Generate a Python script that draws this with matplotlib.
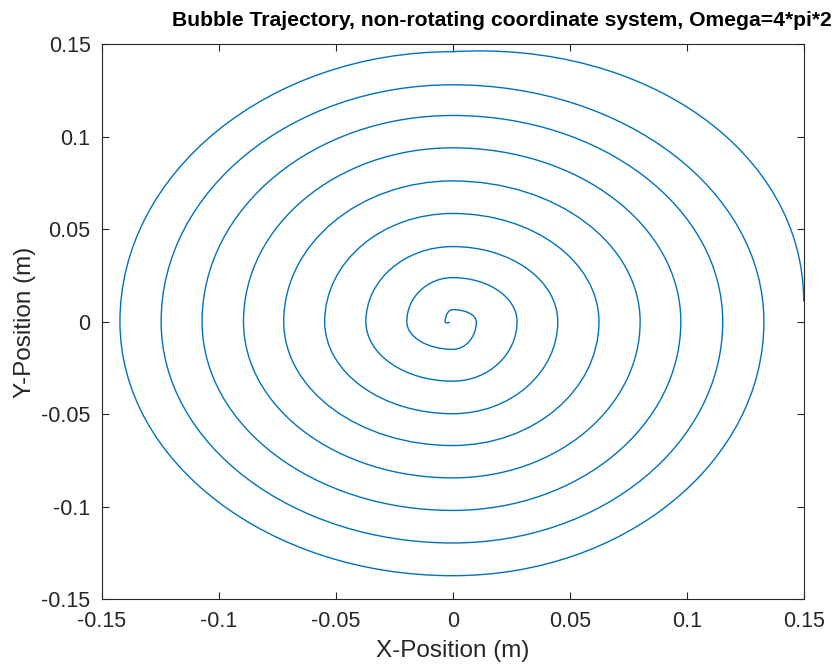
import matplotlib.pyplot as plt
from matplotlib.path import Path
from matplotlib.patches import PathPatch

plt.rcParams['font.family'] = ['Liberation Sans', 'DejaVu Sans']

# Spiral: start point, then where the curve crosses
# the axes on each quarter turn (counter-clockwise, inward)
start = (0.150, 0.011)
top_y = [0.146, 0.1281, 0.1115, 0.0940, 0.0761, 0.0585, 0.0406, 0.0238, 0.0065]
left_x = [-0.1422, -0.1246, -0.1071, -0.0894, -0.0722, -0.0547, -0.0371, -0.0196, -0.0032]
bottom_y = [-0.1374, -0.1197, -0.1021, -0.0845, -0.0670, -0.0498, -0.0322, -0.0150]
right_x = [0.1330, 0.1154, 0.0975, 0.0801, 0.0625, 0.0449, 0.0275, 0.0101]
end = (-0.0011, -0.0004)

ticks = [-0.15, -0.1, -0.05, 0, 0.05, 0.1, 0.15]
tick_labels = ['-0.15', '-0.1', '-0.05', '0', '0.05', '0.1', '0.15']

# order the crossing points along the trajectory
pts = [start]
for i in range(len(top_y)):
    pts.append((0.0, top_y[i]))
    pts.append((left_x[i], 0.0))
    if i < len(bottom_y):
        pts.append((0.0, bottom_y[i]))
        pts.append((right_x[i], 0.0))

# quarter-turn arcs as cubic bezier segments
k = 0.5523
verts = [pts[0]]
codes = [Path.MOVETO]
for p0, p1 in zip(pts[:-1], pts[1:]):
    c1 = (p0[0] + k * p1[0], p0[1] + k * p1[1])
    c2 = (p1[0] + k * p0[0], p1[1] + k * p0[1])
    verts += [c1, c2, p1]
    codes += [Path.CURVE4] * 3
last = pts[-1]
verts += [(last[0], last[1] - 0.0012), (end[0] - 0.0008, end[1]), end]
codes += [Path.CURVE4] * 3

fig = plt.figure(figsize=(8.37, 6.64), dpi=100)
ax = fig.add_axes([0.1215, 0.0979, 0.8387, 0.8354])
ax.add_patch(PathPatch(Path(verts, codes), facecolor='none',
                       edgecolor='#0072BD', lw=1.0))

ax.set_xlim(-0.15, 0.15)
ax.set_ylim(-0.15, 0.15)
ax.set_xticks(ticks)
ax.set_xticklabels(tick_labels)
ax.set_yticks(ticks)
ax.set_yticklabels(tick_labels)
ax.tick_params(direction='in', length=5, width=0.8, colors='#262626',
               labelsize=15.5, top=True, right=True)
ax.tick_params(axis='x', pad=9)
ax.tick_params(axis='y', pad=8)
for s in ax.spines.values():
    s.set_color('#262626')
    s.set_linewidth(0.8)

fig.text(453 / 837, 1 - 651 / 664, 'X-Position (m)', ha='center', va='center',
         fontsize=17.5, color='#262626')
fig.text(25 / 837, 1 - 322 / 664, 'Y-Position (m)', ha='center', va='center',
         rotation=90, fontsize=17.5, color='#262626')
fig.text(502 / 837, 1 - 20 / 664,
         'Bubble Trajectory, non-rotating coordinate system, Omega=4*pi*2',
         ha='center', va='center', fontsize=15.2, fontweight='bold', color='black')

fig.savefig('out.png', dpi=100)
